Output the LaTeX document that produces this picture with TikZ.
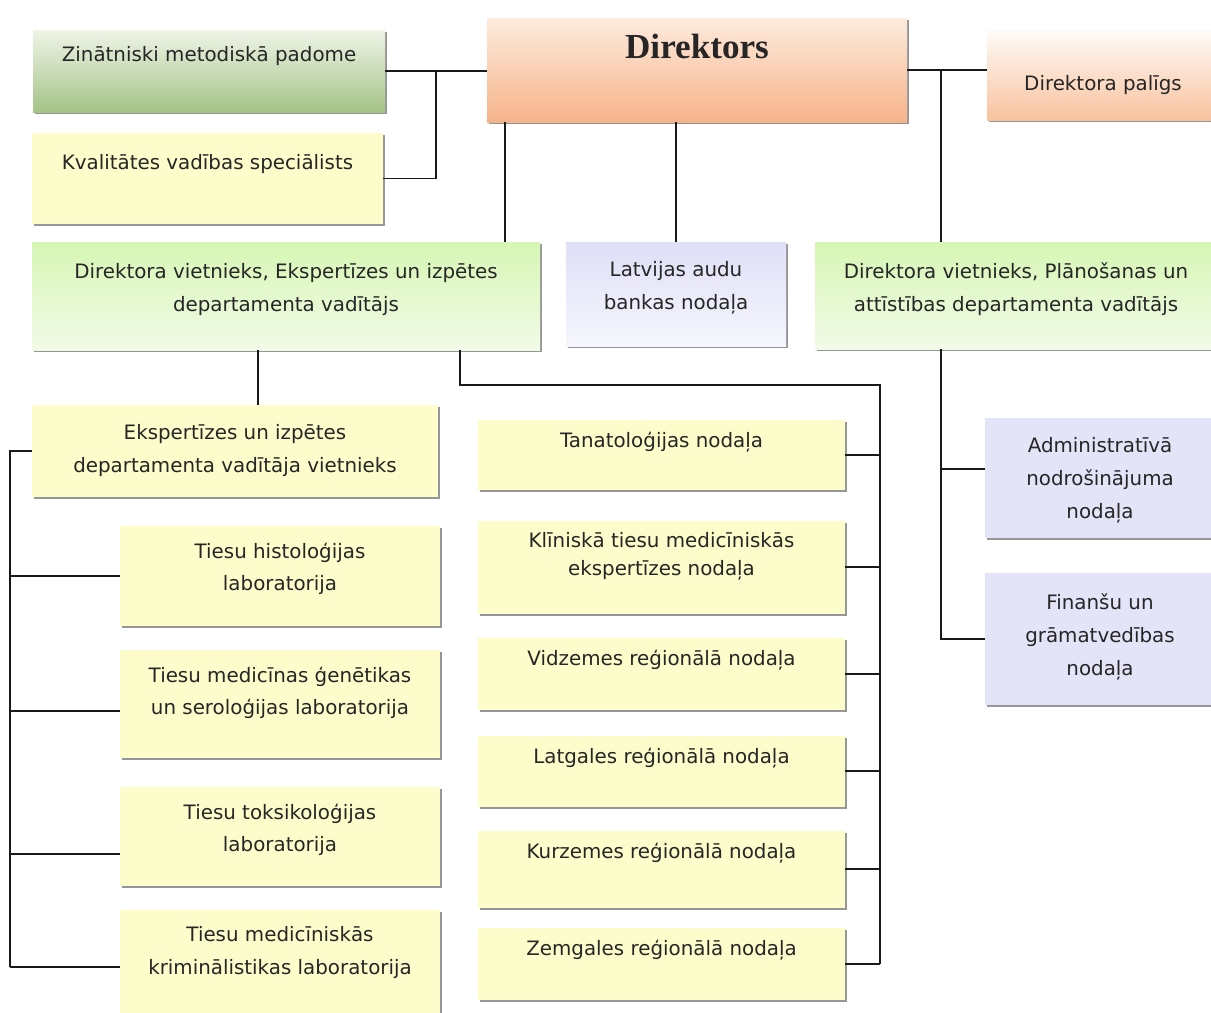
\documentclass[tikz,border=0pt]{standalone}
\usepackage{fontspec}
\setmainfont{DejaVu Sans}
\newfontfamily\dirfont{Liberation Serif}
\usepackage{tikz}
\usetikzlibrary{calc,shadows}

\definecolor{zinTop}{HTML}{EEF4E6}
\definecolor{zinBot}{HTML}{A5C387}
\definecolor{dirTop}{HTML}{FDEBDD}
\definecolor{dirBot}{HTML}{F6B38A}
\definecolor{palTop}{HTML}{FFFBF7}
\definecolor{palBot}{HTML}{F8C29F}
\definecolor{depTop}{HTML}{D6F6B4}
\definecolor{depBot}{HTML}{F2FBE8}
\definecolor{yel}{HTML}{FDFCCB}
\definecolor{lav}{HTML}{E4E4F9}
\definecolor{lavTop}{HTML}{DFDFF7}
\definecolor{lavBot}{HTML}{F6F6FD}
\definecolor{txt}{HTML}{262626}

\begin{document}
\begin{tikzpicture}
	[   x=0.02cm,y=-0.02cm,
	    box/.style 2 args={rectangle,inner sep=0pt,minimum width=#1*0.02cm,minimum height=#2*0.02cm,
	        drop shadow={shadow xshift=1pt,shadow yshift=-1.2pt,opacity=.75,fill=black!55}},
	    ybox/.style 2 args={box={#1}{#2},fill=yel},
	    lbox/.style 2 args={box={#1}{#2},fill=lav},
	    tl/.style={anchor=north,inner sep=0pt,align=center,text=txt,
	        font=\fontsize{11.3}{18.7}\selectfont,yshift=-#1},
	    tl/.default=10pt,
	]
	\tikzset{conn/.style={draw=black!90,line width=0.85pt}}
	\useasboundingbox (0,0) rectangle (1211,1012);
	\clip (0,0) rectangle (1211,1012);

	% top row
	\node[box={352}{82},top color=zinTop,bottom color=zinBot,
	      label={[tl=9.5pt]north:Zinātniski metodiskā padome}] (zin) at (209,71) {};
	\node[ybox={351}{91},label={[tl=12pt]north:Kvalitātes vadības speciālists}] (kval) at (207.5,178.5) {};
	\node[box={420}{104},top color=dirTop,bottom color=dirBot,
	      label={[tl=9pt,font=\dirfont\fontsize{20}{24}\selectfont\bfseries]north:Direktors}] (dir) at (697,70) {};
	\node[box={232}{90},top color=palTop,bottom color=palBot,
	      label={[tl=26pt]north:Direktora palīgs}] (pal) at (1103,75) {};

	% deputies
	\node[box={508}{108},top color=depTop,bottom color=depBot,
	      label={[tl=12pt]north:{Direktora vietnieks, Ekspertīzes un izpētes\\departamenta vadītājs}}] (ldep) at (286,296) {};
	\node[box={220}{104},top color=lavTop,bottom color=lavBot,
	      label={[tl=11pt]north:{Latvijas audu\\bankas nodaļa}}] (lab) at (676,294) {};
	\node[box={402}{107},top color=depTop,bottom color=depBot,
	      label={[tl=12pt]north:{Direktora vietnieks, Plānošanas un\\attīstības departamenta vadītājs}}] (rdep) at (1016,295.5) {};

	% expertise department
	\node[ybox={406}{92},label={[tl=11pt]north:{Ekspertīzes un izpētes\\departamenta vadītāja vietnieks}}] (ekd) at (235,451) {};
	\node[ybox={320}{100},label={[tl=9.5pt]north:{Tiesu histoloģijas\\laboratorija}}] (his) at (280,576) {};
	\node[ybox={320}{108},label={[tl=9.5pt]north:{Tiesu medicīnas ģenētikas\\un seroloģijas laboratorija}}] (gen) at (280,704) {};
	\node[ybox={320}{99},label={[tl=9.5pt]north:{Tiesu toksikoloģijas\\laboratorija}}] (tox) at (280,836.5) {};
	\node[ybox={320}{114},label={[tl=9.5pt]north:{Tiesu medicīniskās\\kriminālistikas laboratorija}}] (krim) at (280,967) {};

	\node[ybox={367}{70},label={[tl=7pt]north:Tanatoloģijas nodaļa}] (tan) at (661.5,455) {};
	\node[ybox={367}{93},label={[tl=7pt]north:{Klīniskā tiesu medicīniskās\\[-3pt]ekspertīzes nodaļa}}] (kli) at (661.5,567) {};
	\node[ybox={367}{72},label={[tl=7pt]north:Vidzemes reģionālā nodaļa}] (vid) at (661.5,674) {};
	\node[ybox={367}{71},label={[tl=7pt]north:Latgales reģionālā nodaļa}] (lat) at (661.5,771) {};
	\node[ybox={367}{77},label={[tl=7pt]north:Kurzemes reģionālā nodaļa}] (kur) at (661.5,869) {};
	\node[ybox={367}{72},label={[tl=7pt]north:Zemgales reģionālā nodaļa}] (zem) at (661.5,964) {};

	% planning department
	\node[lbox={230}{120},label={[tl=11pt]north:{Administratīvā\\nodrošinājuma\\nodaļa}}] (adm) at (1100,478) {};
	\node[lbox={230}{132},label={[tl=12pt]north:{Finanšu un\\grāmatvedības\\nodaļa}}] (fin) at (1100,639) {};

	\coordinate (jl) at (505,0);
	\coordinate (jp) at (941,0);
	\coordinate (je) at (258,0);
	\coordinate (jm) at (460,0);
	\coordinate (bus) at (880,385);
	\coordinate (lbus) at (10,0);
	\coordinate (jz) at ($(zin.east)!.5!(zin.east -| dir.west)$);

	\path[conn] (zin.east) -- (zin.east -| dir.west);
	\path[conn] (kval.east) -| (jz);
	\path[conn] (dir.east) -- (dir.east -| pal.west);
	\path[conn] (dir.east -| jp) -- (rdep.north -| jp);
	\path[conn] (dir.south -| jl) -- (ldep.north -| jl);
	\path[conn] (lab.north) -- (lab.north |- dir.south);
	\path[conn] (ldep.south -| je) -- (ekd.north -| je);

	\path[conn] (ldep.south -| jm) |- (bus) -- (bus |- zem.east);
	\foreach \n in {tan,kli,vid,lat,kur,zem}
	{
		\path[conn] (\n.east) -- (\n.east -| bus);
	}

	\path[conn] (ekd.west) -| (lbus |- krim.west);
	\foreach \n/\s in {his/0,gen/-4,tox/-10,krim/0}
	{
		\path[conn] ([yshift=\s pt]\n.west) -- ([yshift=\s pt]\n.west -| lbus);
	}

	\path[conn] (rdep.south -| jp) |- (fin.west);
	\path[conn] ([yshift=5pt]adm.west) -- ([yshift=5pt]adm.west -| jp);
\end{tikzpicture}
\end{document}
